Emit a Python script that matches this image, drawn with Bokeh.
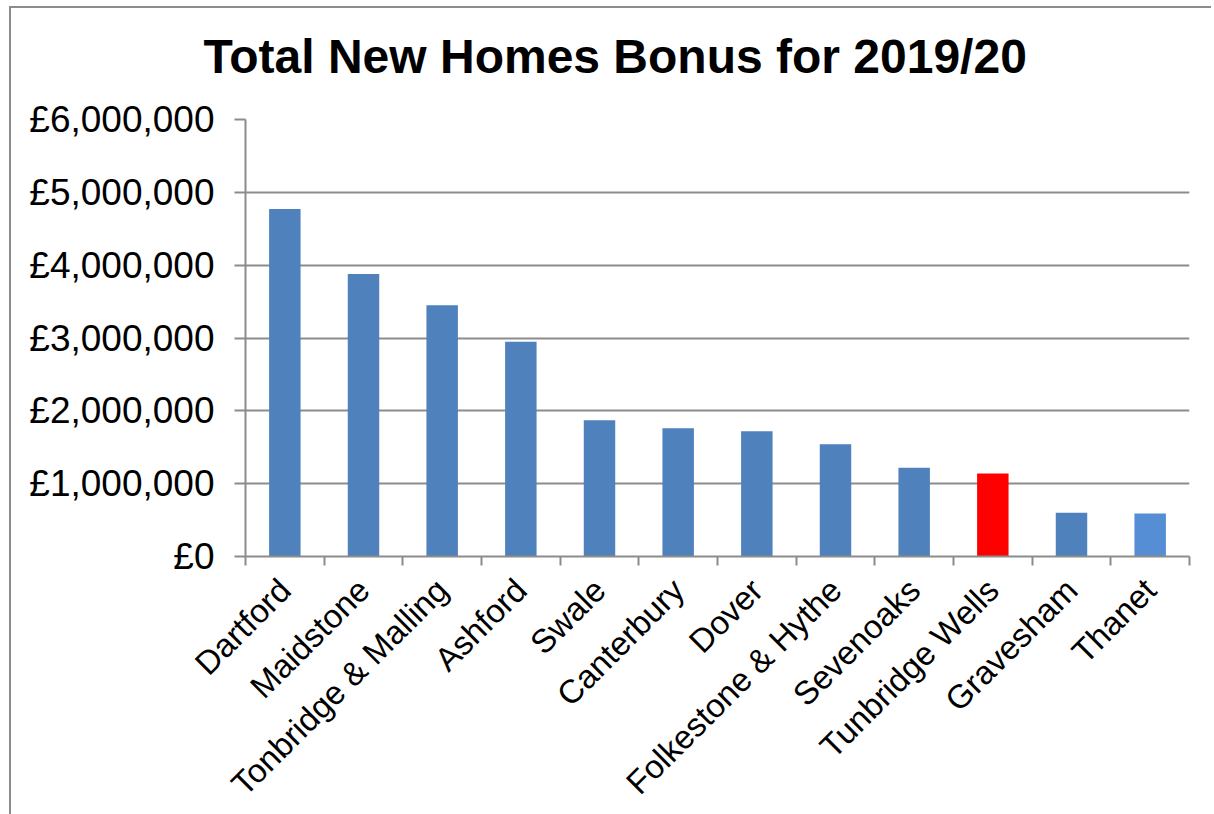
import math
from bokeh.plotting import figure
from bokeh.models import ColumnDataSource, FixedTicker, Range1d, Title
from bokeh.embed import file_html
from bokeh.resources import INLINE

# ---- data ----
categories = ["Dartford", "Maidstone", "Tonbridge & Malling", "Ashford", "Swale",
              "Canterbury", "Dover", "Folkestone & Hythe", "Sevenoaks",
              "Tunbridge Wells", "Gravesham", "Thanet"]
values = [4770000, 3880000, 3450000, 2950000, 1870000, 1760000,
          1720000, 1540000, 1220000, 1140000, 600000, 590000]
y_ticks = [0, 1000000, 2000000, 3000000, 4000000, 5000000, 6000000]
y_tick_labels = ["£0", "£1,000,000", "£2,000,000", "£3,000,000",
                 "£4,000,000", "£5,000,000", "£6,000,000"]
title_text = "Total New Homes Bonus for 2019/20"

# ---- styles ----
BLUE = "#4F81BD"
RED = "#FF0000"
LIGHT_BLUE = "#558ED5"
GRID = "#8C8C8C"
FONT = "Liberation Sans"

n = len(categories)
colors = [BLUE] * n
colors[categories.index("Tunbridge Wells")] = RED
colors[categories.index("Thanet")] = LIGHT_BLUE
xpos = [i + 0.5 for i in range(n)]

source = ColumnDataSource(dict(x=xpos, top=values, cat=categories, color=colors))

p = figure(width=1202, height=810, output_backend="svg", toolbar_location=None,
           x_range=Range1d(0, n), y_range=Range1d(0, 6000000),
           min_border_left=234, min_border_right=24,
           min_border_top=111, min_border_bottom=256,
           margin=(6, 0, -6, 9),
           styles={"border-left": "2px solid #8c8c8c",
                   "border-top": "2px solid #8c8c8c"})

p.vbar(x="x", top="top", bottom=0, width=0.4, fill_color="color",
       line_color=None, source=source)

# spacer between frame and title, then the title itself
spacer = Title(text=" ", text_font_size="1px", standoff=12)
p.add_layout(spacer, "above")
t = Title(text=title_text, align="left", offset=-42, standoff=40,
          vertical_align="top",
          text_font=FONT, text_font_size="48px", text_font_style="bold",
          text_color="black")
p.add_layout(t, "above")

# y axis
p.yaxis.ticker = FixedTicker(ticks=y_ticks)
p.yaxis.major_label_overrides = {float(v): s for v, s in zip(y_ticks, y_tick_labels)}
p.yaxis.major_label_text_font = FONT
p.yaxis.major_label_text_font_size = "37px"
p.yaxis.major_label_text_color = "black"
p.yaxis.axis_line_color = GRID
p.yaxis.axis_line_width = 2
p.yaxis.major_tick_line_color = GRID
p.yaxis.major_tick_line_width = 2
p.yaxis.major_tick_out = 11
p.yaxis.major_tick_in = 0
p.yaxis.minor_tick_line_color = None
p.yaxis.major_label_standoff = 20

# x axis
p.xaxis.ticker = FixedTicker(ticks=xpos, minor_ticks=list(range(n + 1)))
p.xaxis.major_label_overrides = {float(x): c for x, c in zip(xpos, categories)}
p.xaxis.major_label_orientation = math.pi / 4
p.xaxis.major_label_text_font = FONT
p.xaxis.major_label_text_font_size = "33px"
p.xaxis.major_label_text_color = "black"
p.xaxis.axis_line_color = GRID
p.xaxis.axis_line_width = 2
p.xaxis.major_tick_line_color = None
p.xaxis.major_tick_out = 0
p.xaxis.major_tick_in = 0
p.xaxis.minor_tick_line_color = GRID
p.xaxis.minor_tick_line_width = 2
p.xaxis.minor_tick_out = 9
p.xaxis.minor_tick_in = 0
p.xaxis.major_label_standoff = 19

p.xgrid.grid_line_color = None
p.ygrid.grid_line_color = GRID
p.ygrid.grid_line_width = 2
p.outline_line_color = None
p.background_fill_color = "white"
p.border_fill_color = "white"

open("out.html", "w").write(file_html(p, INLINE))
